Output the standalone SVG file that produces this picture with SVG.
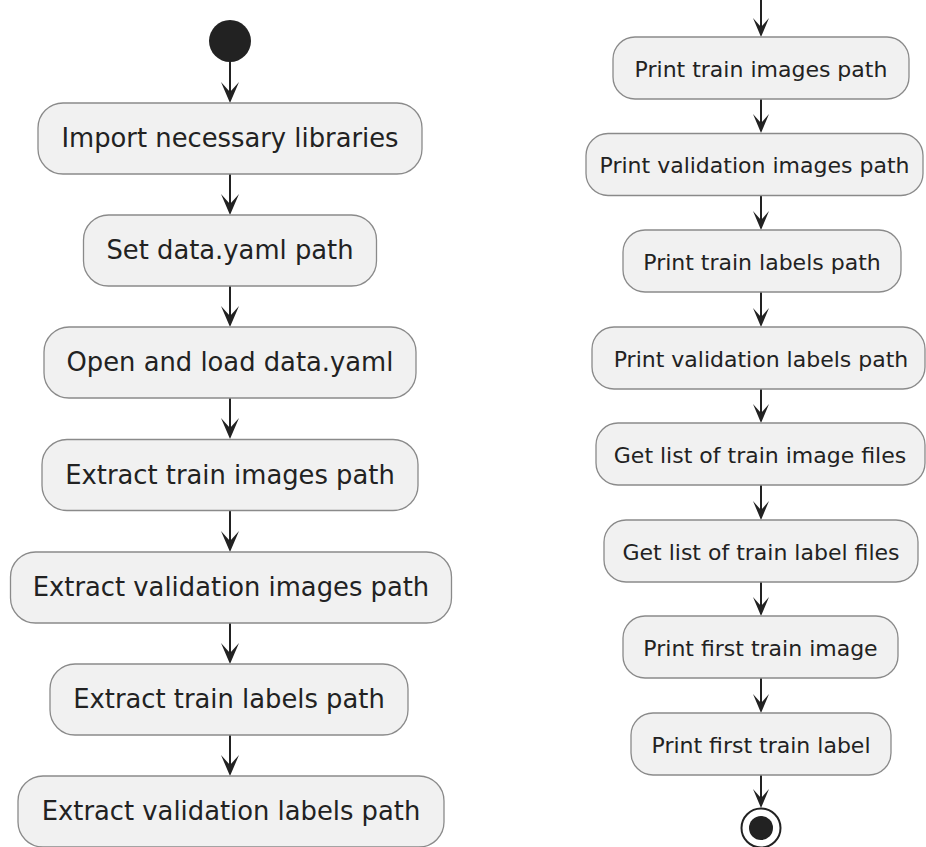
<svg xmlns="http://www.w3.org/2000/svg" width="926" height="847" viewBox="0 0 926 847">
<style>
.box{fill:#F1F1F1;stroke:#8a8a8a;stroke-width:1.3}
.tl{font-family:"DejaVu Sans",sans-serif;font-size:25.8px;fill:#222;text-anchor:middle}
.tr{font-family:"DejaVu Sans",sans-serif;font-size:22px;fill:#222;text-anchor:middle}
.ln{stroke:#222;stroke-width:2;fill:none}
.ah{fill:#222;stroke:none}
</style>
<rect width="926" height="847" fill="#fff"/>
<g id="connectors">
<line class="ln" x1="230" y1="62" x2="230" y2="100"/>
<polygon class="ah" points="221,82 230,92 239,82 230,103"/>
<line class="ln" x1="230" y1="174" x2="230" y2="212"/>
<polygon class="ah" points="221,194 230,204 239,194 230,215"/>
<line class="ln" x1="230" y1="286" x2="230" y2="324"/>
<polygon class="ah" points="221,306 230,316 239,306 230,327"/>
<line class="ln" x1="230" y1="398" x2="230" y2="436"/>
<polygon class="ah" points="221,418 230,428 239,418 230,439"/>
<line class="ln" x1="230" y1="511" x2="230" y2="549"/>
<polygon class="ah" points="221,531 230,541 239,531 230,552"/>
<line class="ln" x1="230" y1="623" x2="230" y2="661"/>
<polygon class="ah" points="221,643 230,653 239,643 230,664"/>
<line class="ln" x1="230" y1="735" x2="230" y2="773"/>
<polygon class="ah" points="221,755 230,765 239,755 230,776"/>

<line class="ln" x1="761" y1="0" x2="761" y2="34"/>
<polygon class="ah" points="753,18 761,27 769,18 761,37"/>
<line class="ln" x1="761" y1="99" x2="761" y2="131"/>
<polygon class="ah" points="753,114 761,123 769,114 761,133"/>
<line class="ln" x1="761" y1="195" x2="761" y2="228"/>
<polygon class="ah" points="753,211 761,220 769,211 761,230"/>
<line class="ln" x1="761" y1="292" x2="761" y2="324"/>
<polygon class="ah" points="753,308 761,317 769,308 761,327"/>
<line class="ln" x1="761" y1="389" x2="761" y2="421"/>
<polygon class="ah" points="753,404 761,413 769,404 761,423"/>
<line class="ln" x1="761" y1="485" x2="761" y2="517"/>
<polygon class="ah" points="753,501 761,510 769,501 761,520"/>
<line class="ln" x1="761" y1="582" x2="761" y2="614"/>
<polygon class="ah" points="753,597 761,606 769,597 761,616"/>
<line class="ln" x1="761" y1="678" x2="761" y2="710"/>
<polygon class="ah" points="753,694 761,703 769,694 761,713"/>
<line class="ln" x1="761" y1="775" x2="761" y2="805"/>
<polygon class="ah" points="753,789 761,798 769,789 761,808"/>
</g>

<g id="start"><circle cx="230" cy="41" r="21" fill="#222"/></g>

<g id="n1"><rect class="box" x="38" y="103" width="384" height="71" rx="25"/><text class="tl" x="230" y="147">Import necessary libraries</text></g>
<g id="n2"><rect class="box" x="83.5" y="215" width="293" height="71" rx="25"/><text class="tl" x="230" y="259">Set data.yaml path</text></g>
<g id="n3"><rect class="box" x="44" y="327" width="372" height="71" rx="25"/><text class="tl" x="230" y="371">Open and load data.yaml</text></g>
<g id="n4"><rect class="box" x="42" y="439.5" width="376" height="71" rx="25"/><text class="tl" x="230" y="483.5">Extract train images path</text></g>
<g id="n5"><rect class="box" x="10.5" y="552" width="441" height="71" rx="25"/><text class="tl" x="231" y="596">Extract validation images path</text></g>
<g id="n6"><rect class="box" x="50" y="664" width="358" height="71" rx="25"/><text class="tl" x="229" y="708">Extract train labels path</text></g>
<g id="n7"><rect class="box" x="18" y="776" width="426" height="71" rx="25"/><text class="tl" x="231" y="820">Extract validation labels path</text></g>

<g id="r1"><rect class="box" x="613" y="37" width="296" height="62" rx="22"/><text class="tr" x="761" y="76.5">Print train images path</text></g>
<g id="r2"><rect class="box" x="586" y="133.5" width="337" height="62" rx="22"/><text class="tr" x="754.5" y="173">Print validation images path</text></g>
<g id="r3"><rect class="box" x="623" y="230" width="278" height="62" rx="22"/><text class="tr" x="762" y="269.5">Print train labels path</text></g>
<g id="r4"><rect class="box" x="592" y="327" width="333" height="62" rx="22"/><text class="tr" x="761" y="366.5">Print validation labels path</text></g>
<g id="r5"><rect class="box" x="596" y="423" width="329" height="62" rx="22"/><text class="tr" x="760" y="462.5">Get list of train image files</text></g>
<g id="r6"><rect class="box" x="604" y="520" width="314" height="62" rx="22"/><text class="tr" x="761" y="559.5">Get list of train label files</text></g>
<g id="r7"><rect class="box" x="623" y="616" width="275" height="62" rx="22"/><text class="tr" x="760.5" y="655.5">Print first train image</text></g>
<g id="r8"><rect class="box" x="631" y="713" width="260" height="62" rx="22"/><text class="tr" x="761" y="752.5">Print first train label</text></g>

<g id="end"><circle cx="761" cy="828" r="19.5" fill="none" stroke="#222" stroke-width="2"/><circle cx="761" cy="828" r="12" fill="#222"/></g>
</svg>
